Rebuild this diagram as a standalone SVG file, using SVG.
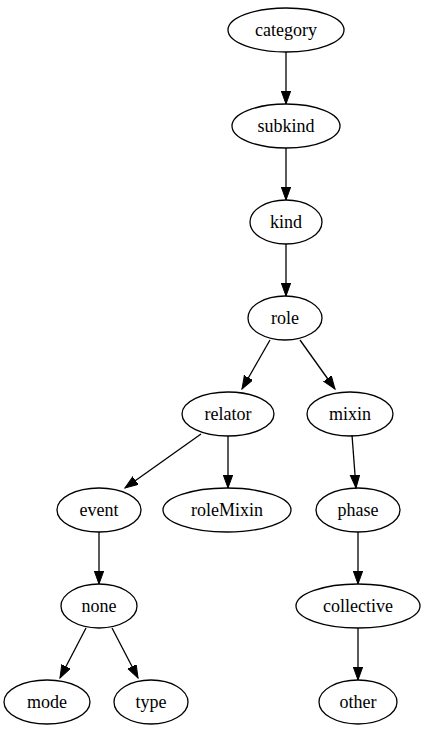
<svg xmlns="http://www.w3.org/2000/svg" width="426" height="731" viewBox="0 0 426 731">
<style>
.n ellipse{fill:none;stroke:#000;stroke-width:1.3}
.n text{font-family:"Liberation Serif","Times New Roman",serif;font-size:18px;text-anchor:middle;fill:#000}
.e line{stroke:#000;stroke-width:1.3;marker-end:url(#ah)}
</style>
<defs>
<marker id="ah" markerUnits="userSpaceOnUse" markerWidth="16" markerHeight="12" refX="13" refY="4.7" orient="auto">
<path d="M0,0 L13,4.7 L0,9.4 z" fill="#000" stroke="#000" stroke-width="1"/>
</marker>
</defs>
<rect width="426" height="731" fill="#fff"/>
<g id="edges" class="e">
<line x1="286" y1="52" x2="286" y2="104"/>
<line x1="286" y1="148" x2="286" y2="200"/>
<line x1="286" y1="244" x2="286" y2="296"/>
<line x1="270" y1="340" x2="242" y2="389"/>
<line x1="300" y1="340" x2="335" y2="389"/>
<line x1="201" y1="434" x2="125" y2="488"/>
<line x1="228" y1="436" x2="228" y2="488"/>
<line x1="352" y1="435" x2="356" y2="488"/>
<line x1="99" y1="532" x2="99" y2="584"/>
<line x1="358" y1="532" x2="358" y2="584"/>
<line x1="86" y1="628" x2="60" y2="678"/>
<line x1="112" y1="628" x2="138" y2="678"/>
<line x1="358" y1="628" x2="358" y2="680"/>
</g>
<g id="nodes">
<g id="category" class="n"><ellipse cx="286" cy="30" rx="58" ry="22"/><text x="286" y="36">category</text></g>
<g id="subkind" class="n"><ellipse cx="286" cy="126" rx="54" ry="22"/><text x="286" y="132">subkind</text></g>
<g id="kind" class="n"><ellipse cx="286" cy="222" rx="36" ry="22"/><text x="286" y="228">kind</text></g>
<g id="role" class="n"><ellipse cx="285" cy="318" rx="37" ry="22"/><text x="285" y="324">role</text></g>
<g id="relator" class="n"><ellipse cx="228" cy="414" rx="46" ry="22"/><text x="228" y="420">relator</text></g>
<g id="mixin" class="n"><ellipse cx="350" cy="414" rx="43" ry="22"/><text x="350" y="420">mixin</text></g>
<g id="event" class="n"><ellipse cx="99" cy="510" rx="42" ry="22"/><text x="99" y="516">event</text></g>
<g id="roleMixin" class="n"><ellipse cx="227" cy="510" rx="64" ry="22"/><text x="227" y="516">roleMixin</text></g>
<g id="phase" class="n"><ellipse cx="358" cy="510" rx="42" ry="22"/><text x="358" y="516">phase</text></g>
<g id="none" class="n"><ellipse cx="99" cy="606" rx="38" ry="22"/><text x="99" y="612">none</text></g>
<g id="collective" class="n"><ellipse cx="358" cy="606" rx="62" ry="22"/><text x="358" y="612">collective</text></g>
<g id="mode" class="n"><ellipse cx="47" cy="702" rx="43" ry="22"/><text x="47" y="708">mode</text></g>
<g id="type" class="n"><ellipse cx="151" cy="702" rx="37" ry="22"/><text x="151" y="708">type</text></g>
<g id="other" class="n"><ellipse cx="358" cy="702" rx="39" ry="22"/><text x="358" y="708">other</text></g>
</g>
</svg>
